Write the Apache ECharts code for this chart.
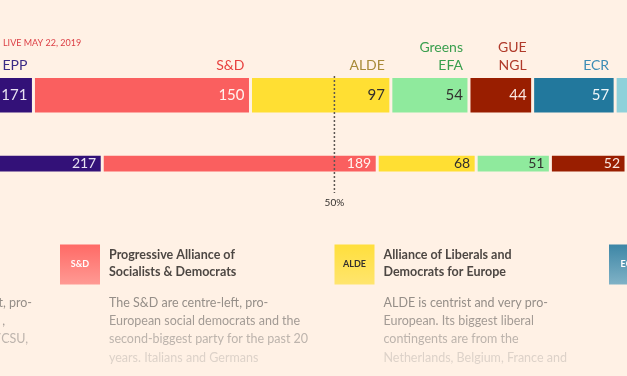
<!DOCTYPE html>
<html>
<head>
<meta charset="utf-8">
<script src="https://cdn.jsdelivr.net/npm/echarts@6/dist/echarts.min.js"></script>
<style>
  html, body { margin: 0; padding: 0; background: #fff1e5; }
  #chart { width: 627px; height: 376px; }
</style>
</head>
<body>
<div id="chart"></div>
<script>
  // groups left to right, seats
  var groups = ['EPP', 'S&D', 'ALDE', 'Greens/EFA', 'GUE/NGL', 'ECR', 'EFDD', 'ENF', 'NI'];
  var groupLabels = ['EPP', 'S&D', 'ALDE', 'Greens\nEFA', 'GUE\nNGL', 'ECR', 'EFDD', 'ENF', 'NI'];
  var projected = [171, 150, 97, 54, 44, 57, 56, 62, 60];   // live projection
  var outgoing = [217, 189, 68, 51, 52, 76, 41, 36, 21];    // outgoing parliament
  var totalSeats = 751;
  var halfMark = 379;   // where the 50% line sits
  var updated = 'LIVE MAY 22, 2019';

  var groupColors = ['#331178', '#fa5f5f', '#ffdf33', '#8fea9d', '#991e00', '#22789d', '#8fd1da', '#1c3a6b', '#c8c2bc'];
  var nameColors = ['#3b2b86', '#e8413f', '#a88a38', '#3a9f4e', '#b03a2a', '#3c8cb5', '#5aaab5', '#1c3a6b', '#8a837e'];
  var valueColors = ['#e8e3f2', '#fff4ef', '#33302e', '#33302e', '#fbe9e2', '#eef6f9', '#33302e', '#fff', '#33302e'];

  // group cards under the bars
  var cardTags = ['S&D', 'ALDE', 'ECR'];
  var cardTitles = [
    ['Progressive Alliance of', 'Socialists & Democrats'],
    ['Alliance of Liberals and', 'Democrats for Europe'],
    []
  ];
  var cardTexts = [
    ['The S&D are centre-left, pro-', 'European social democrats and the', 'second-biggest party for the past 20', 'years. Italians and Germans'],
    ['ALDE is centrist and very pro-', 'European. Its biggest liberal', 'contingents are from the', 'Netherlands, Belgium, France and'],
    []
  ];
  var eppTextEnds = ['t, pro-', ',', '/CSU,'];

  var font = 'Lato, "Open Sans", sans-serif';
  var bg = '#fff1e5';

  var chart = echarts.init(document.getElementById('chart'));

  function rowSeries (values, idx) {
    return values.map(function (v, i) {
      return {
        type: 'bar',
        name: groups[i],
        stack: 'row' + idx,
        xAxisIndex: idx,
        yAxisIndex: idx,
        barWidth: '100%',
        silent: true,
        data: [v],
        itemStyle: { color: groupColors[i], borderColor: bg, borderWidth: 1.5 },
        label: {
          show: true,
          position: 'insideRight',
          distance: 6,
          color: valueColors[i],
          fontFamily: font,
          fontSize: idx === 0 ? 15 : 14
        }
      };
    });
  }

  var option = {
    backgroundColor: bg,
    animation: false,
    grid: [
      { left: -214, top: 76.5, width: totalSeats * 1.447, height: 37.5, outerBoundsMode: 'none', containLabel: false },
      { left: -213.5, top: 154.3, width: totalSeats * 1.455, height: 18.7, outerBoundsMode: 'none', containLabel: false }
    ],
    xAxis: [0, 1].map(function (i) {
      return { type: 'value', gridIndex: i, min: 0, max: totalSeats, show: false };
    }),
    yAxis: [0, 1].map(function (i) {
      return { type: 'category', gridIndex: i, data: [''], show: false };
    }),
    series: rowSeries(projected, 0).concat(rowSeries(outgoing, 1))
  };
  chart.setOption(option);

  var g = [];
  g.push({ type: 'text', x: 3, y: 43, style: { text: updated, fill: '#dc3f45', font: '9px ' + font, verticalAlign: 'middle' } });

  // group names above the top row
  var cum = 0;
  projected.forEach(function (v, i) {
    cum += v;
    var px = chart.convertToPixel({ xAxisIndex: 0 }, cum);
    g.push({
      type: 'text', x: px - 6, y: 74,
      style: { text: groupLabels[i], fill: nameColors[i], font: '14px ' + font, align: 'right', verticalAlign: 'bottom', lineHeight: 18 }
    });
  });

  // 50% line, drawn over the bars
  var hx = chart.convertToPixel({ xAxisIndex: 0 }, halfMark);
  g.push({ type: 'line', z: 100, shape: { x1: hx, y1: 76, x2: hx, y2: 193 }, style: { stroke: '#5c5652', lineWidth: 1.5, lineDash: [2, 2] } });
  g.push({ type: 'text', x: hx, y: 203, style: { text: '50%', fill: '#33302e', font: '10px ' + font, align: 'center', verticalAlign: 'middle' } });

  // cards
  var lineFade = ['#958e88', '#a39b95', '#bdb4ad', '#ddd2c9'];
  var tagGrad = [
    ['#ff6a66', '#ff9a94'],
    ['#ffdf3c', '#ffe56e'],
    ['#3d86a6', '#80b2c6']
  ];
  var tagText = ['#fff', '#33302e', '#fff'];
  cardTags.forEach(function (tag, c) {
    var sx = 60 + c * 274.5;
    g.push({
      type: 'rect', shape: { x: sx, y: 244.5, width: 40, height: 40 },
      style: { fill: new echarts.graphic.LinearGradient(0, 0, 0, 1, [{ offset: 0, color: tagGrad[c][0] }, { offset: 1, color: tagGrad[c][1] }]) }
    });
    g.push({ type: 'text', x: sx + 20, y: 264.5, style: { text: tag, fill: tagText[c], font: 'bold 9px ' + font, align: 'center', verticalAlign: 'middle' } });
    cardTitles[c].forEach(function (t, j) {
      g.push({ type: 'text', x: sx + 49, y: 254.5 + j * 17.5, style: { text: t, fill: '#4d4743', font: 'bold 12.5px ' + font, verticalAlign: 'middle' } });
    });
    cardTexts[c].forEach(function (t, j) {
      g.push({ type: 'text', x: sx + 49, y: 302.5 + j * 18.4, style: { text: t, fill: lineFade[j], font: '12.5px ' + font, verticalAlign: 'middle' } });
    });
  });
  eppTextEnds.forEach(function (t, j) {
    g.push({ type: 'text', x: 32 - (j === 1 ? 27 : j === 2 ? 4 : 0), y: 302.5 + j * 18.4, style: { text: t, fill: lineFade[j], font: '12.5px ' + font, align: 'right', verticalAlign: 'middle' } });
  });

  chart.setOption({ graphic: g });
</script>
</body>
</html>
